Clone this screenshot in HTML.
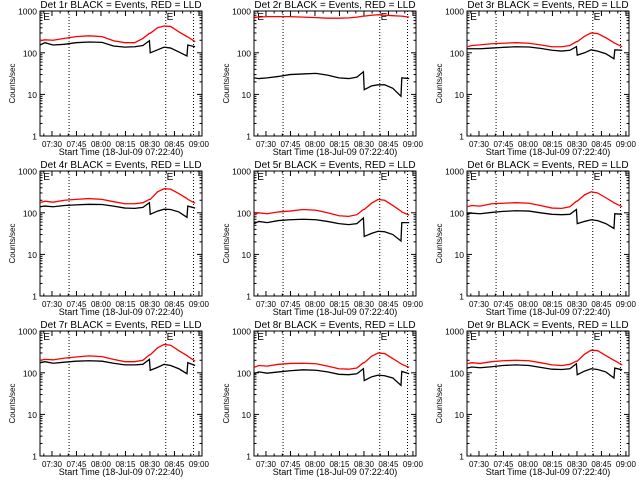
<!DOCTYPE html>
<html><head><meta charset="utf-8"><style>
body{margin:0;background:#fff}
svg{display:block;font-family:"Liberation Sans",sans-serif}
</style></head><body>
<svg id="chart" width="640" height="480" viewBox="0 0 640 480"></svg>
<script>
const times = [0,3,8,15,22,30,38,45,52,58,63,67,67.5,72,76,80,85,90,90.5,95];
const tickLabels = ["07:30","07:45","08:00","08:15","08:30","08:45","09:00"];
const yTickLabels = ["1","10","100","1000"];
const dottedTimes = [17.8,77,94];
const detNames = ["1r","2r","3r","4r","5r","6r","7r","8r","9r"];
const red1 = [195,205,200,222,245,256,245,195,175,175,222,294,294,400,440,430,320,245,240,185];
const black1 = [154,175,154,160,175,182,178,146,137,140,150,195,100,118,137,130,105,84,154,140];
const red2 = [720,720,740,740,740,720,700,680,680,690,720,760,760,800,820,800,780,760,760,720];
const black2 = [25,24,25,27,30,31,32,29,25,24,26,35,13,16,17,17,14,9,25,24];
const red3 = [140,150,155,165,170,175,170,155,140,140,150,185,185,250,300,290,230,175,170,140];
const black3 = [125,125,125,130,135,140,138,128,115,110,115,140,88,100,118,110,95,72,118,115];
const red4 = [175,190,180,200,210,220,210,185,165,165,175,210,210,320,380,370,290,220,210,170];
const black4 = [140,145,140,150,155,160,158,145,130,128,135,175,92,110,122,120,105,78,145,130];
const red5 = [90,100,95,105,110,120,115,100,85,82,90,120,120,170,210,200,150,110,105,88];
const black5 = [55,62,58,65,68,70,68,62,55,52,55,75,27,32,36,35,30,21,58,58];
const red6 = [140,150,145,165,170,175,170,150,130,128,140,190,190,270,320,300,230,175,170,140];
const black6 = [95,98,95,102,108,112,110,100,92,90,92,120,55,62,68,65,55,42,95,92];
const red7 = [200,210,205,225,240,255,245,210,185,185,200,270,270,400,480,460,340,260,250,190];
const black7 = [175,185,170,180,190,195,190,170,155,155,160,210,115,135,160,150,125,95,175,150];
const red8 = [135,150,145,160,168,170,165,145,125,122,130,175,175,250,300,290,220,165,160,135];
const black8 = [95,105,98,105,112,118,115,105,92,90,95,125,65,80,88,85,75,50,108,95];
const red9 = [165,175,168,185,195,200,195,175,155,150,160,190,190,280,350,340,260,200,195,155];
const black9 = [130,138,132,140,150,155,150,135,122,120,125,165,90,110,125,120,105,75,130,118];
const reds=[red1,red2,red3,red4,red5,red6,red7,red8,red9];
const blacks=[black1,black2,black3,black4,black5,black6,black7,black8,black9];

const NS="http://www.w3.org/2000/svg";
const svg=document.getElementById('chart');
function mk(tag,attrs,parent){const e=document.createElementNS(NS,tag);for(const k in attrs)e.setAttribute(k,attrs[k]);parent.appendChild(e);return e;}
const lefts=[40,254,467], tops=[11,171,331], W=162, H=125, TMAX=99.2, DEC=41.6;

for(let p=0;p<9;p++){
  const L=lefts[p%3], T=tops[Math.floor(p/3)], B=T+H;
  const xs=t=>L+t*W/TMAX;
  const ys=v=>B-Math.log10(v)*DEC;
  const g=mk('g',{},svg);
  
  
  const title=mk('text',{x:L+W/2,y:T-3,'text-anchor':'middle','font-size':10},g);
  title.textContent='Det '+detNames[p]+' BLACK = Events, RED = LLD';
  
  
  const frame=mk('rect',{x:L,y:T,width:W,height:H,fill:'none',stroke:'#000','stroke-width':1},g);
  
  
  for(let d=0;d<4;d++){
    const y=ys(Math.pow(10,d));
    mk('line',{x1:L,x2:L+5,y1:y,y2:y,stroke:'#000'},g);
    mk('line',{x1:L+W,x2:L+W-5,y1:y,y2:y,stroke:'#000'},g);
    const lb=mk('text',{x:L-3,y:y+3.5,'text-anchor':'end','font-size':8.5},g);
    lb.textContent=yTickLabels[d];
    
    
    if(d<3)for(let m=2;m<10;m++){const yy=ys(m*Math.pow(10,d));
      mk('line',{x1:L,x2:L+2.5,y1:yy,y2:yy,stroke:'#000'},g);
      mk('line',{x1:L+W,x2:L+W-2.5,y1:yy,y2:yy,stroke:'#000'},g);}
  }
  for(let t=2.33;t<TMAX;t+=5){
    const x=xs(t); const maj=Math.abs(((t-7.33)/15)-Math.round((t-7.33)/15))<0.01;
    const len=maj?5:2.5;
    mk('line',{x1:x,x2:x,y1:B,y2:B-len,stroke:'#000'},g);
    mk('line',{x1:x,x2:x,y1:T,y2:T+len,stroke:'#000'},g);
  }
  tickLabels.forEach((s,i)=>{
    const lb=mk('text',{x:xs(7.33+15*i),y:B+11,'text-anchor':'middle','font-size':8},g);
    lb.textContent=s;
    
    
  });
  const xt=mk('text',{x:L+W/2,y:B+19,'text-anchor':'middle','font-size':9},g);
  xt.textContent='Start Time (18-Jul-09 07:22:40)';
  
  
  const yt=mk('text',{x:0,y:0,'text-anchor':'middle','font-size':8,transform:`translate(${L-25},${T+H/2+10}) rotate(-90)`},g);
  yt.textContent='Counts/sec';
  
  
  dottedTimes.forEach(t=>{
    const dl=mk('line',{x1:xs(t),x2:xs(t),y1:T,y2:B,stroke:'#000','stroke-dasharray':'1,2'},g);
    
    
  });
  [[2,'E'],[77.5,'E']].forEach(([t,s])=>{
    const e=mk('text',{x:xs(t),y:T+9,'font-size':10},g);
    e.textContent=s;
    
    
  });
  const rp=mk('polyline',{points:times.map((t,i)=>xs(t)+','+ys(reds[p][i])).join(' '),fill:'none',stroke:'#ff0000','stroke-width':1.3},g);
  
  
  const bp=mk('polyline',{points:times.map((t,i)=>xs(t)+','+ys(blacks[p][i])).join(' '),fill:'none',stroke:'#000','stroke-width':1.3},g);
  
  
}
</script>
</body></html>
